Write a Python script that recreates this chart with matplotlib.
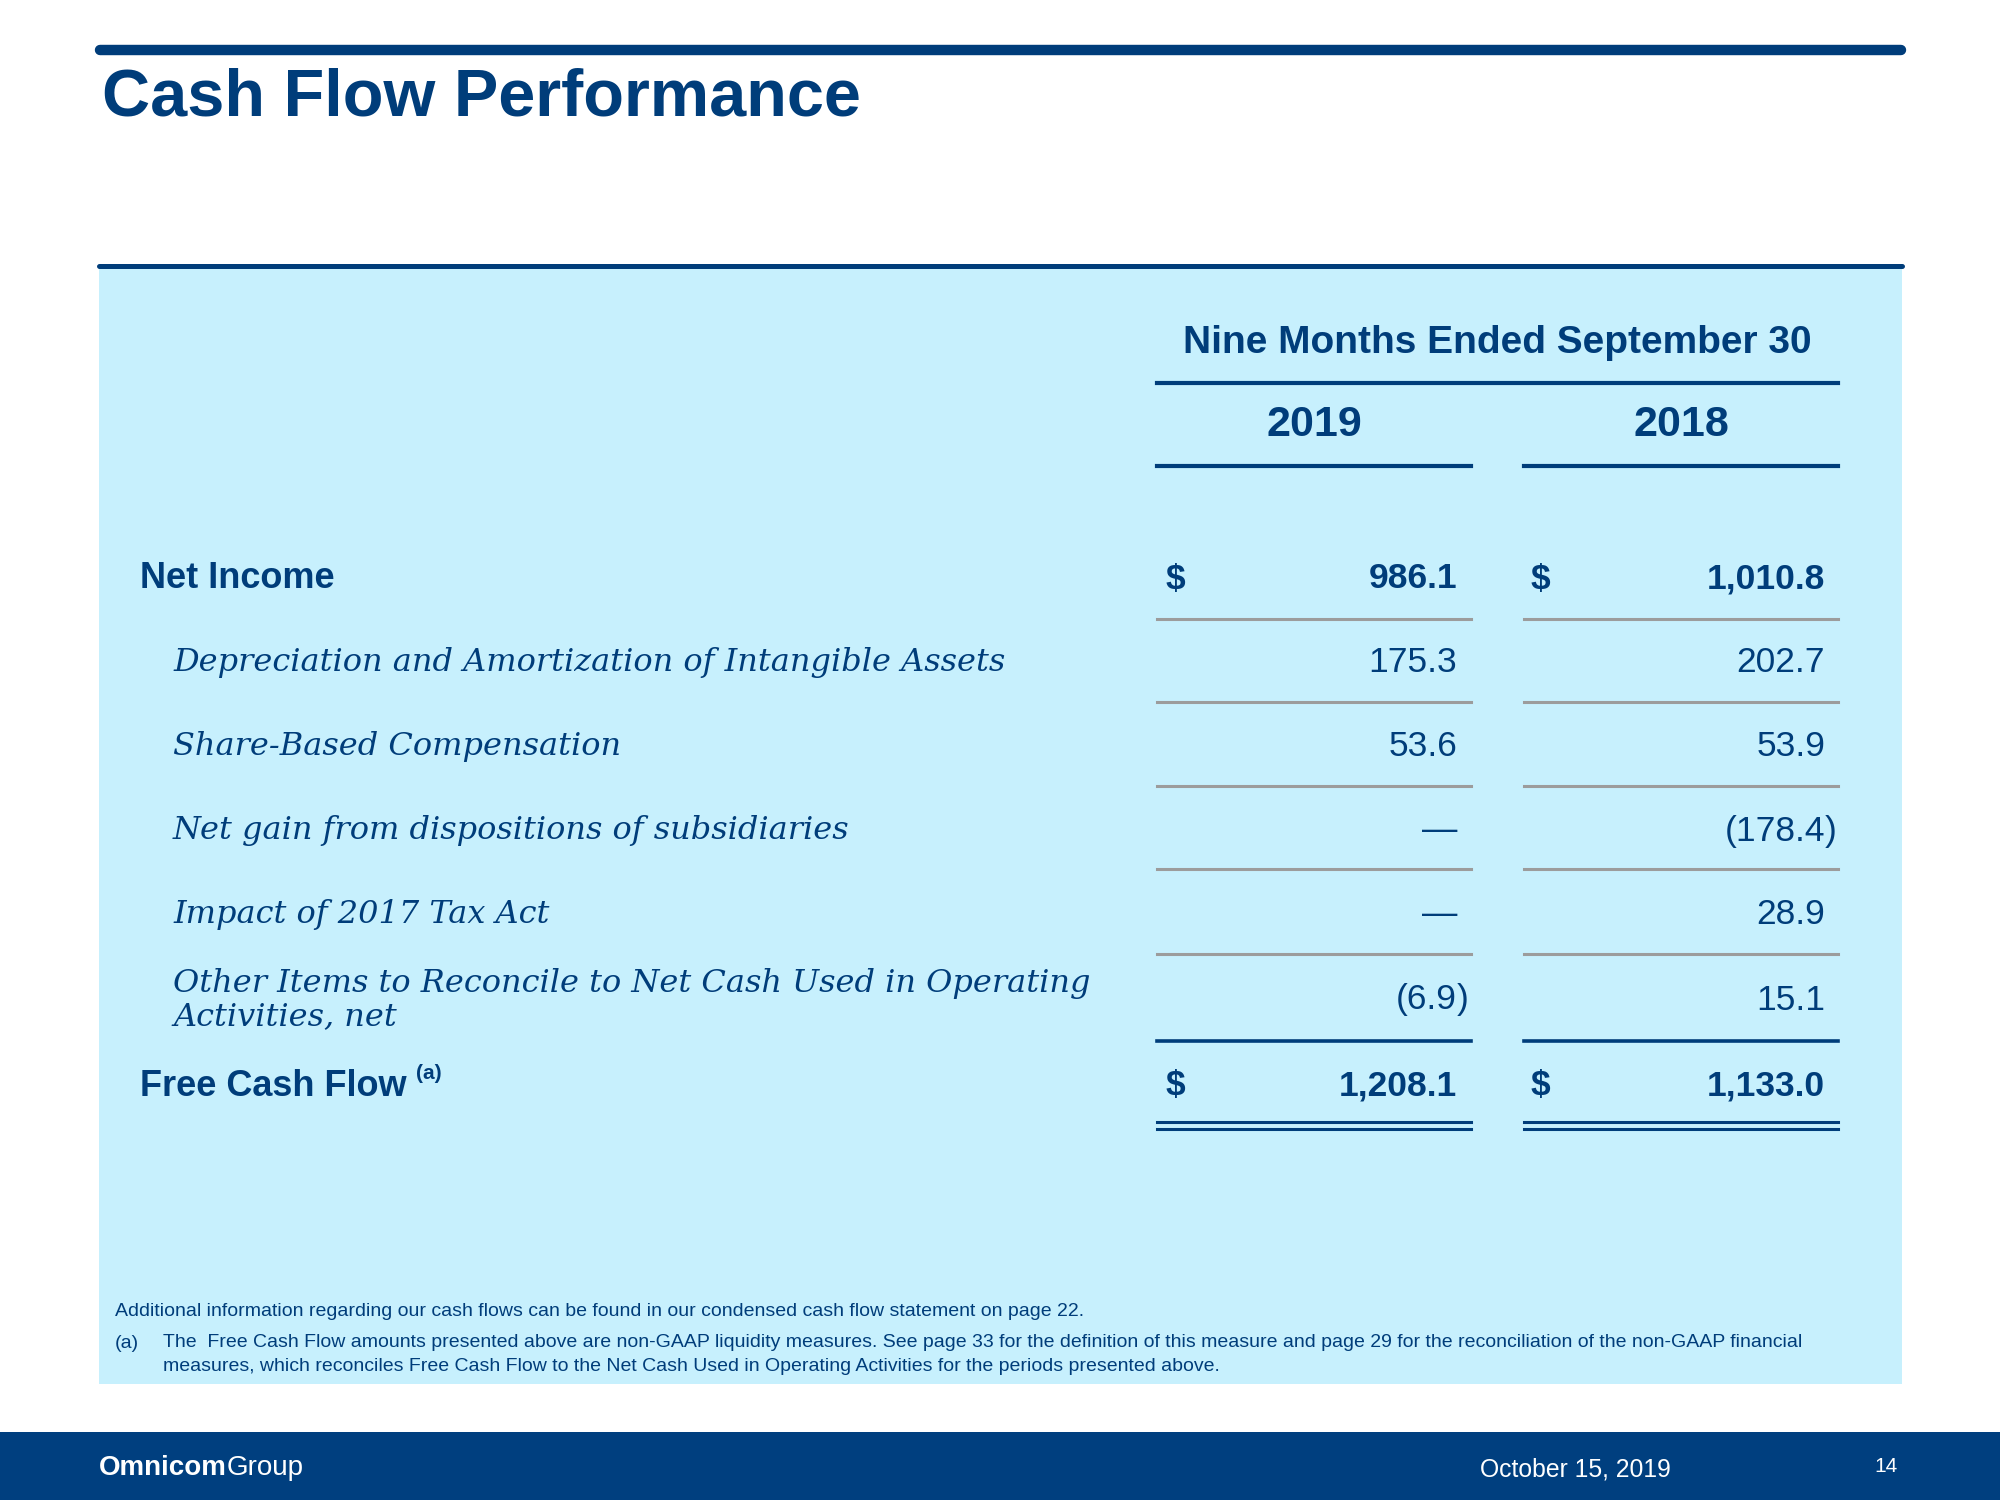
import matplotlib
matplotlib.use("Agg")
import matplotlib.pyplot as plt

# --- данные таблицы ---
row_labels = [
    "Net Income",
    "Depreciation and Amortization of Intangible Assets",
    "Share-Based Compensation",
    "Net gain from dispositions of subsidiaries",
    "Impact of 2017 Tax Act",
    "Other Items to Reconcile to Net Cash Used in Operating\nActivities, net",
    "Free Cash Flow",
]
row_bold = [True, False, False, False, False, False, True]
years = ["2019", "2018"]
values_2019 = [986.1, 175.3, 53.6, None, None, -6.9, 1208.1]
values_2018 = [1010.8, 202.7, 53.9, -178.4, 28.9, 15.1, 1133.0]
period_title = "Nine Months Ended September 30"
title = "Cash Flow Performance"
note_main = ("Additional information regarding our cash flows can be found in our "
             "condensed cash flow statement on page 22.")
note_a = ("The  Free Cash Flow amounts presented above are non-GAAP liquidity measures. "
          "See page 33 for the definition of this measure and page 29 for the reconciliation "
          "of the non-GAAP financial\nmeasures, which reconciles Free Cash Flow to the Net "
          "Cash Used in Operating Activities for the periods presented above.")
footer_date = "October 15, 2019"
page_no = "14"

DARK = "#003D7A"
BAND = "#003F7F"
LIGHT = "#C7F0FD"
GRAY = "#9C9C9C"
SANS = "Liberation Sans"
SERIF = "DejaVu Serif"
DY = 4  # небольшой сдвиг текста вниз


def fmt(v):
    if v is None:
        return "\u2014"
    s = f"{abs(v):,.1f}"
    return f"({s}" if v < 0 else s


fig = plt.figure(figsize=(20, 15), dpi=100)
ax = fig.add_axes([0, 0, 1, 1])
ax.set_xlim(0, 2000)
ax.set_ylim(1500, 0)
ax.axis("off")

# --- шапка слайда ---
ax.plot([100, 1901], [50, 50], color=DARK, lw=7.5, solid_capstyle="round")
ax.text(102, 95 + DY, title, fontsize=48, fontweight="bold", color=DARK,
        family=SANS, va="center", ha="left")

# --- светлый блок таблицы ---
ax.add_patch(plt.Rectangle((99, 266), 1803, 1118, color=LIGHT, lw=0))
ax.plot([99, 1902], [266, 266], color=DARK, lw=3.6, solid_capstyle="round")

col_left = [1157, 1524]
col_right = [1471, 1838]
val_right = [1457, 1825]
dollar_x = [1166, 1531]

ax.text(1497, 339 + DY, period_title, fontsize=28, fontweight="bold", color=DARK,
        family=SANS, ha="center", va="center")
ax.plot([col_left[0], col_right[1]], [383, 383], color=DARK, lw=3)
for i, yr in enumerate(years):
    ax.text((col_left[i] + col_right[i]) / 2, 421 + DY, yr, fontsize=31,
            fontweight="bold", color=DARK, family=SANS, ha="center", va="center")
    ax.plot([col_left[i], col_right[i]], [466, 466], color=DARK, lw=3)

row_y = [575, 659, 742, 827, 911, 996, 1082]
line_y = [619, 702, 786, 869, 954]

for label, bold, y, v19, v18 in zip(row_labels, row_bold, row_y, values_2019, values_2018):
    y = y + DY
    if bold:
        t = ax.text(140, y, label, fontsize=26, fontweight="bold", color=DARK,
                    family=SANS, va="center", ha="left")
    else:
        t = ax.text(173, y, label, fontsize=23, style="italic", color=DARK,
                    family=SERIF, va="center", ha="left", linespacing=1.12)
    for i, v in enumerate([v19, v18]):
        ax.text(val_right[i], y, fmt(v), fontsize=25.5, color=DARK, family=SANS,
                fontweight="bold" if bold else "normal", va="center", ha="right")
        if v is not None and v < 0:
            ax.text(val_right[i], y, ")", fontsize=25.5, color=DARK, family=SANS,
                    va="center", ha="left")
        if bold:
            ax.text(dollar_x[i], y, "$", fontsize=25.5, fontweight="bold", color=DARK,
                    family=SANS, va="center", ha="left")
    if label == "Free Cash Flow":
        ax.annotate("(a)", xy=(1, 1), xycoords=t, xytext=(7, 3),
                    textcoords="offset points", fontsize=15, fontweight="bold",
                    color=DARK, family=SANS, va="top", ha="left")

for i in range(2):
    for y in line_y:
        ax.plot([col_left[i], col_right[i]], [y, y], color=GRAY, lw=2.2)
    ax.plot([col_left[i], col_right[i]], [1041, 1041], color=DARK, lw=2.6)
    ax.plot([col_left[i], col_right[i]], [1122, 1122], color=DARK, lw=2.2)
    ax.plot([col_left[i], col_right[i]], [1129, 1129], color=DARK, lw=2.2)

# --- примечания ---
ax.text(115, 1311, note_main, fontsize=14, color=DARK, family=SANS,
        va="center", ha="left")
ax.text(115, 1343, "(a)", fontsize=14, color=DARK, family=SANS,
        va="center", ha="left")
ax.text(163, 1334, note_a, fontsize=14, color=DARK, family=SANS,
        va="top", ha="left", linespacing=1.55)

# --- нижняя полоса ---
ax.add_patch(plt.Rectangle((0, 1432), 2000, 68, color=BAND, lw=0))
logo = ax.text(99, 1468, "Omnicom", fontsize=20, fontweight="bold", color="white",
               family=SANS, va="center", ha="left")
ax.annotate("Group", xy=(1, 0), xycoords=logo, fontsize=20, color="white",
            family=SANS, va="bottom", ha="left")
ax.text(1480, 1469, footer_date, fontsize=17.8, color="white", family=SANS,
        va="center", ha="left")
ax.text(1886, 1466, page_no, fontsize=15, color="white", family=SANS,
        va="center", ha="center")

fig.savefig("out.png", dpi=100, facecolor="white")
